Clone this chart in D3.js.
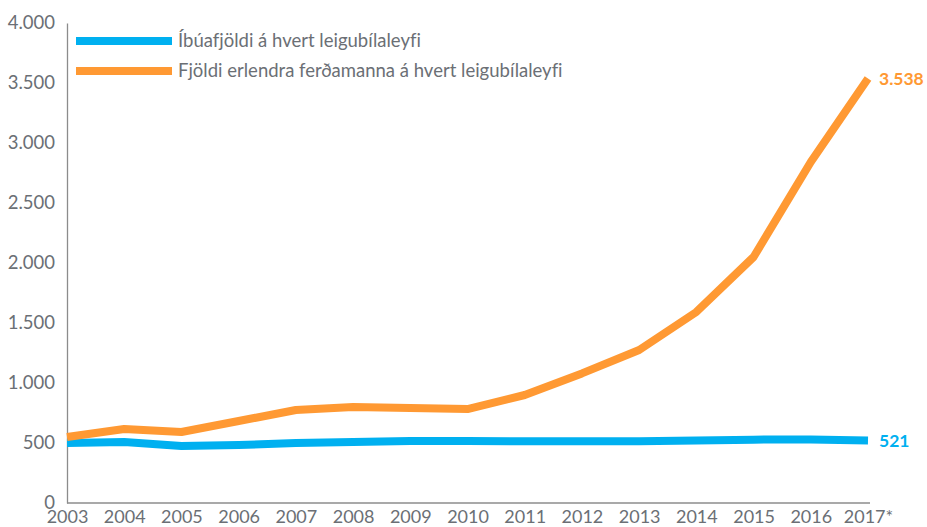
<!DOCTYPE html>
<html>
<head>
<meta charset="utf-8">
<script src="https://cdn.jsdelivr.net/npm/d3@7"></script>
<style>
  body { margin: 0; background: #fff; }
  svg text { font-family: Lato, "Open Sans", sans-serif; font-variant-ligatures: none; }
</style>
</head>
<body>
<svg width="927" height="527"></svg>
<script>
// data
const years = ['2003', '2004', '2005', '2006', '2007', '2008', '2009', '2010',
    '2011', '2012', '2013', '2014', '2015', '2016', '2017*'];
const residents = [500, 508, 475, 483, 500, 508, 517, 517, 515, 515, 515, 520, 528, 530, 521];
const tourists = [550, 617, 592, 683, 775, 800, 792, 783, 900, 1080, 1275, 1592, 2050, 2842, 3538];
const yTicks = [0, 500, 1000, 1500, 2000, 2500, 3000, 3500, 4000];
const seriesNames = ['Íbúafjöldi á hvert leigubílaleyfi', 'Fjöldi erlendra ferðamanna á hvert leigubílaleyfi'];
const seriesColors = ['#00b0f0', '#ff9933'];

const svg = d3.select('svg');
const plotLeft = 67, plotRight = 868, plotTop = 23, plotBottom = 503;

const x = d3.scalePoint().domain(years).range([plotLeft, plotRight]);
const y = d3.scaleLinear().domain([0, 4000]).range([plotBottom, plotTop]);
const fmt = d => d3.format(',')(d).replace(/,/g, '.');

// y axis
const yAxis = svg.append('g')
    .attr('transform', `translate(${plotLeft},0)`)
    .call(d3.axisLeft(y).tickValues(yTicks).tickSize(0).tickPadding(12).tickFormat(fmt));
yAxis.select('.domain').attr('stroke', '#8c8c8c').attr('stroke-width', 1.3);
yAxis.selectAll('text').attr('fill', '#6b6f75').style('font-size', '18.5px');

// x axis
const xAxis = svg.append('g')
    .attr('transform', `translate(0,${plotBottom})`)
    .call(d3.axisBottom(x).tickSize(0).tickPadding(7));
xAxis.select('.domain').attr('stroke', '#8c8c8c').attr('stroke-width', 1.3)
    .attr('d', `M${plotLeft},0H${plotRight + 2}`);
xAxis.selectAll('text').attr('fill', '#6b6f75').style('font-size', '18px');

// lines
const line = d3.line().x((d, i) => x(years[i])).y(d => y(d));
[residents, tourists].forEach((vals, k) => {
    svg.append('path')
        .datum(vals)
        .attr('fill', 'none')
        .attr('stroke', seriesColors[k])
        .attr('stroke-width', 8)
        .attr('stroke-linejoin', 'round')
        .attr('d', line);

    const last = vals[vals.length - 1];
    svg.append('text')
        .attr('x', x(years[years.length - 1]) + 11)
        .attr('y', y(last))
        .attr('dy', '0.35em')
        .attr('fill', seriesColors[k])
        .style('font-size', '17.5px')
        .style('font-weight', 'bold')
        .text(fmt(last));
});

// legend
const legend = svg.append('g');
seriesNames.forEach((name, k) => {
    const ly = 41 + k * 30;
    legend.append('line')
        .attr('x1', 76).attr('x2', 172)
        .attr('y1', ly).attr('y2', ly)
        .attr('stroke', seriesColors[k])
        .attr('stroke-width', 8);
    legend.append('text')
        .attr('x', 178).attr('y', ly)
        .attr('dy', '0.35em')
        .attr('fill', '#6b6f75')
        .style('font-size', '18.5px')
        .text(name);
});
</script>
</body>
</html>
